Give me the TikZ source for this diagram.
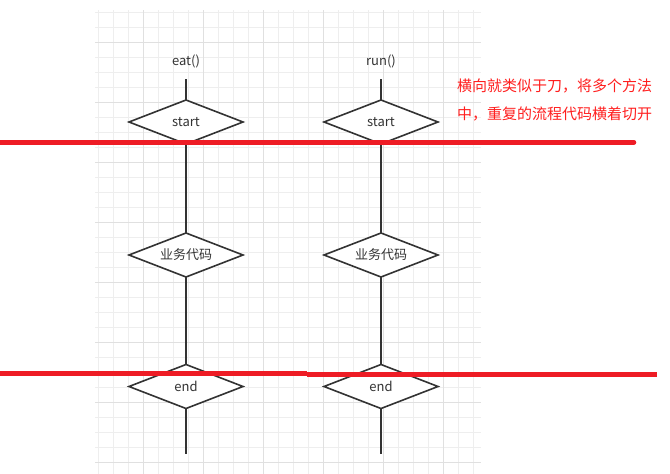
\documentclass[tikz,border=0pt]{standalone}
\usepackage{fontspec}
\setmainfont{Noto Sans CJK SC}
\usetikzlibrary{shapes.geometric}
\definecolor{gridminor}{HTML}{EEEEEE}
\definecolor{gridmajor}{HTML}{E0E0E0}
\definecolor{ink}{HTML}{333333}
\definecolor{cutred}{HTML}{EE1C25}
\definecolor{notered}{HTML}{FF1E1E}
\newcommand\narrowtext[1]{\makebox[0pt]{\raisebox{-1.5pt}{#1}}}
\tikzset{
  flowdiamond/.style={diamond, draw=ink, line width=1.6pt, fill=white,
    minimum width=114pt, minimum height=44pt, inner sep=0pt, outer sep=0pt,
    text=ink, font=\fontsize{13}{15}\selectfont},
  flowlabel/.style={text=ink, font=\fontsize{13}{15}\selectfont, inner sep=0pt},
  flowline/.style={draw=ink, line width=1.6pt},
  cutline/.style={draw=cutred, line width=4.5pt},
  note/.style={text=notered, font=\fontsize{15}{17}\selectfont, inner sep=0pt, anchor=west}
}
\begin{document}
\begin{tikzpicture}[x=1pt,y=-1pt]
\useasboundingbox (0,0) rectangle (670,474);
% grid
\foreach \gx in {98,113,...,473} {\draw[gridminor, line width=0.8pt] (\gx,10) -- (\gx,474);}
\foreach \gy in {12,27,...,462} {\draw[gridminor, line width=0.8pt] (95,\gy) -- (481,\gy);}
\foreach \gx in {143,203,...,443} {\draw[gridmajor, line width=0.8pt] (\gx,10) -- (\gx,474);}
\foreach \gy in {42,102,...,462} {\draw[gridmajor, line width=0.8pt] (95,\gy) -- (481,\gy);}
% left column
\node[flowlabel] (eatlbl) at (186,61.5) {eat()};
\coordinate (eattop) at (186,79);
\node[flowdiamond] (s1) at (186,122) {\narrowtext{start}};
\node[flowdiamond] (b1) at (186,255) {\narrowtext{业务代码}};
\node[flowdiamond] (e1) at (186,386.5) {\narrowtext{end}};
\coordinate (eatbot) at (186,454);
\draw[flowline] (eattop) -- (s1.north);
\draw[flowline] (s1.south) -- (b1.north);
\draw[flowline] (b1.south) -- (e1.north);
\draw[flowline] (e1.south) -- (eatbot);
% right column
\node[flowlabel] (runlbl) at (381,61.5) {run()};
\coordinate (runtop) at (381,79);
\node[flowdiamond] (s2) at (381,122) {\narrowtext{start}};
\node[flowdiamond] (b2) at (381,255) {\narrowtext{业务代码}};
\node[flowdiamond] (e2) at (381,386.5) {\narrowtext{end}};
\coordinate (runbot) at (381,454);
\draw[flowline] (runtop) -- (s2.north);
\draw[flowline] (s2.south) -- (b2.north);
\draw[flowline] (b2.south) -- (e2.north);
\draw[flowline] (e2.south) -- (runbot);
% cut lines
\coordinate (c1a) at (0,142.3);
\coordinate (c1b) at (634,142.3);
\draw[cutline, line cap=round] (c1a) -- (c1b);
\coordinate (c2a) at (0,373.3);
\coordinate (c2b) at (307,373.3);
\coordinate (c3a) at (307,374.3);
\coordinate (c3b) at (657,374.3);
\draw[cutline] (c2a) -- (c2b);
\draw[cutline] (c3a) -- (c3b);
% note
\node[note] (note1) at (457,86) {横向就类似于刀，将多个方法};
\node[note] (note2) at (457,114) {中，重复的流程代码横着切开};
\end{tikzpicture}
\end{document}
